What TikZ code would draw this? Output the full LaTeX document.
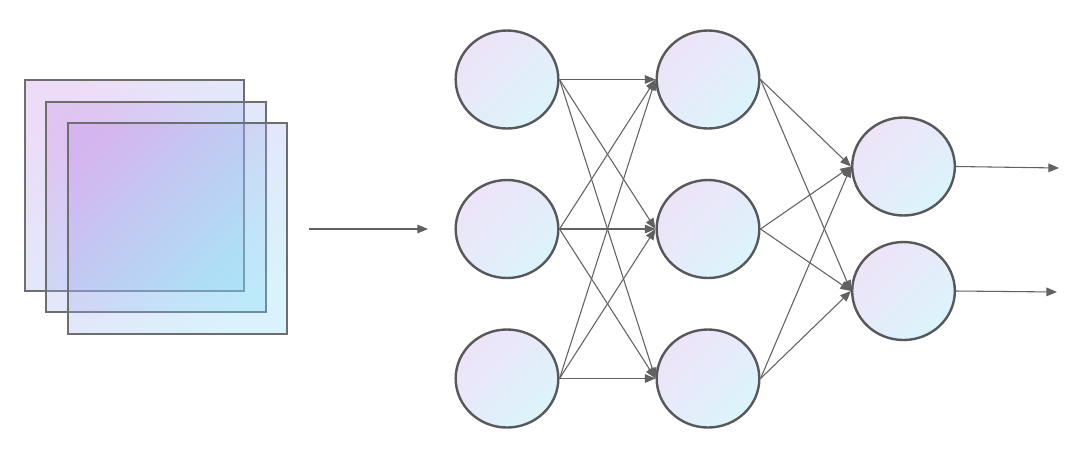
\documentclass[tikz,border=0pt]{standalone}
\usetikzlibrary{arrows.meta,shapes.geometric}
\definecolor{edgegray}{HTML}{616161}
\definecolor{ringgray}{HTML}{585858}
\definecolor{circtop}{HTML}{EEE3F8}
\definecolor{circbot}{HTML}{DCF4FC}
\definecolor{sqtop}{RGB}{195,140,230}
\definecolor{sqbot}{RGB}{125,215,245}
\definecolor{sqline}{HTML}{6E6E6E}
\tikzset{
  neuron/.style={ellipse, draw=ringgray, line width=1.8pt, inner sep=0pt,
    minimum width=77pt, minimum height=73.5pt,
    top color=circtop, bottom color=circbot, shading angle=45},
  layer/.style={draw=sqline, line width=1.2pt, draw opacity=1, fill opacity=0.3,
    top color=sqtop, bottom color=sqbot, shading angle=45},
  conn/.style={draw=edgegray, line width=0.8pt, -{Triangle[length=8pt,width=6.5pt]}}
}
\begin{document}
\begin{tikzpicture}[x=0.75pt,y=-0.75pt]
\useasboundingbox (0,0) rectangle (1080,451);
% input layers
\path[layer] (25,80) rectangle (244,291);
\path[layer] (46,102) rectangle (266,312);
\path[layer] (68,123) rectangle (287,334);
\coordinate (ins) at (309,229);
\coordinate (ine) at (428,229);
\draw[conn] (ins) -- (ine);
% neurons
\node[neuron] (a1) at (507,79.5) {};
\node[neuron] (a2) at (507,229) {};
\node[neuron] (a3) at (507,378.5) {};
\node[neuron] (b1) at (708,79.5) {};
\node[neuron] (b2) at (708,229) {};
\node[neuron] (b3) at (708,378.5) {};
\node[neuron] (c1) at (903.5,166.5) {};
\node[neuron] (c2) at (903.5,291) {};
\coordinate (o1) at (1059,168);
\coordinate (o2) at (1057,292);
% connections
\foreach \i in {1,2,3}{
  \foreach \j in {1,2,3}{
    \draw[conn] (a\i.east) -- (b\j.west);
  }
  \foreach \j in {1,2}{
    \draw[conn] (b\i.east) -- (c\j.west);
  }
}
\draw[conn] (c1.east) -- (o1);
\draw[conn] (c2.east) -- (o2);
\end{tikzpicture}
\end{document}
